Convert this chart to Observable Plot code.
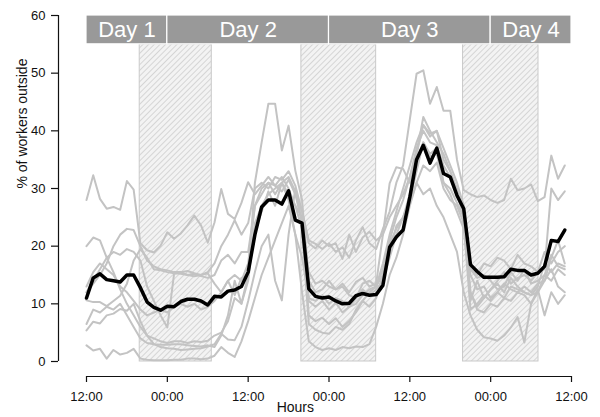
<!DOCTYPE html>
<html><head><meta charset="utf-8">
<script src="https://cdn.jsdelivr.net/npm/d3@7"></script>
<script src="https://cdn.jsdelivr.net/npm/@observablehq/plot@0.6"></script>
<style>body{margin:0;background:#fff;font-family:"Liberation Sans",Arial,sans-serif}</style>
</head><body><div id="chart"></div>
<script>
// ---------- data (hourly, hour 0 = 12:00 on day 1) ----------
const meanWorkers = [
  11.0,14.5,15.2,14.2,14.0,13.8,15.0,15.0,12.8,10.3,9.4,8.9,
  9.6,9.5,10.4,10.8,10.8,10.5,9.8,11.3,11.2,12.2,12.4,13.0,
  15.5,22.0,26.8,28.0,28.0,27.3,29.6,24.5,24.0,12.6,11.3,11.0,
  11.2,10.5,10.0,10.1,11.4,11.8,11.5,11.6,13.2,19.8,21.6,22.8,
  28.5,35.0,37.5,34.4,37.0,32.6,32.0,28.8,26.5,16.8,15.6,14.6,
  14.6,14.6,14.7,16.0,15.8,15.8,15.0,15.3,16.5,21.0,20.8,22.8];

const colonyA = [
  28.0,32.3,28.2,26.5,26.8,26.3,31.3,29.8,20.5,19.3,18.9,20.1,
  22.4,21.3,22.2,23.6,25.3,23.6,20.6,24.1,29.9,25.6,24.7,27.5,
  31.1,29.0,30.5,32.0,30.5,29.5,31.5,29.0,24.0,15.5,13.5,14.0,
  13.0,12.5,13.5,12.0,13.8,14.5,13.0,13.5,22.0,30.9,33.7,33.4,
  31.0,35.0,38.0,35.5,36.0,31.0,30.0,27.5,25.0,16.0,14.5,15.0,
  14.0,12.5,13.0,15.5,14.0,16.0,13.5,14.0,15.0,18.5,16.5,16.0];
const colonyB = [
  12.0,14.0,16.0,18.0,19.0,18.5,19.5,19.0,17.5,13.0,10.5,8.0,
  5.9,15.2,15.5,15.0,15.2,14.8,14.5,15.0,17.5,18.5,17.0,19.0,
  19.0,27.0,29.0,31.0,30.5,32.0,30.0,27.0,25.0,10.5,9.5,10.5,
  9.0,10.2,8.5,9.5,11.0,12.5,11.5,12.5,14.0,18.0,22.0,25.0,
  29.0,36.0,41.0,39.0,40.0,35.0,33.0,29.0,26.0,10.5,14.0,11.0,
  12.5,13.5,12.0,14.5,13.0,12.0,11.5,13.0,17.0,15.5,17.0,16.5];
const colonyC = [
  10.6,10.3,10.3,9.6,10.5,11.4,13.5,17.5,19.5,18.0,16.0,15.8,
  15.5,15.3,15.2,15.0,14.8,15.0,15.3,13.5,12.0,14.0,11.5,14.5,
  15.0,22.5,26.0,29.5,27.0,31.0,29.0,27.0,23.0,6.5,5.5,5.0,
  4.8,6.0,5.5,6.5,9.0,10.5,9.5,11.0,15.0,19.0,23.5,25.0,
  28.0,33.0,38.0,36.0,37.0,31.0,29.0,26.0,23.0,12.0,9.5,11.0,
  12.5,14.0,15.5,13.5,14.5,15.0,14.0,15.5,19.0,17.0,19.0,20.0];
const colonyD = [
  5.4,6.9,6.6,8.0,8.3,9.1,8.8,10.0,7.0,4.5,3.0,2.5,
  2.3,2.2,2.0,2.1,2.2,2.3,2.6,3.0,4.8,3.8,3.7,6.0,
  10.5,15.5,20.0,22.0,14.0,10.6,22.0,30.0,24.0,8.0,7.0,7.6,
  6.5,7.5,6.0,7.0,8.5,10.5,12.0,13.0,15.0,20.5,23.0,25.0,
  27.5,31.0,34.0,33.0,34.5,30.0,28.0,27.0,24.0,9.0,10.0,11.5,
  10.5,12.0,11.0,13.0,12.5,12.0,11.5,12.0,15.0,14.0,16.0,15.0];
const colonyE = [
  2.8,1.9,2.2,0.5,2.0,1.2,1.5,2.2,0.5,0.3,0.2,0.2,
  0.2,0.3,0.3,0.5,0.5,0.4,0.5,1.0,2.5,1.5,0.8,3.5,
  7.0,11.0,15.0,18.0,21.0,24.0,27.0,22.0,12.0,3.5,2.5,2.0,
  2.3,2.0,2.5,2.3,2.6,2.5,3.0,6.0,10.0,15.0,18.0,22.0,
  27.0,31.0,29.0,30.0,27.0,25.0,22.0,19.0,12.0,8.0,5.5,4.2,
  4.0,3.6,4.5,5.9,7.7,3.3,10.0,12.5,8.0,12.0,10.0,11.5];
const colonyF = [
  6.5,9.0,8.5,9.5,9.0,10.0,8.0,6.0,4.0,3.2,3.0,2.9,
  2.9,3.0,3.0,2.8,2.7,2.6,2.8,2.5,4.5,8.0,14.0,10.0,
  15.0,31.0,38.0,44.7,44.7,36.6,40.9,33.1,28.0,14.0,12.0,12.5,
  14.0,12.5,13.0,11.5,11.0,13.5,14.0,13.0,17.0,22.0,26.0,30.0,
  34.0,38.0,41.0,39.5,40.0,37.0,34.0,31.0,27.0,15.0,12.5,13.0,
  11.0,12.0,13.5,12.5,12.0,13.0,12.0,13.5,14.0,18.0,21.0,17.0];
const colonyG = [
  12.0,13.5,15.0,17.0,20.0,22.0,23.0,22.8,20.0,17.5,16.5,16.0,
  15.8,15.5,15.5,15.7,15.3,15.0,15.5,17.0,20.0,22.0,24.5,22.0,
  24.0,30.0,31.0,30.0,32.0,31.5,33.0,30.5,26.0,21.0,20.4,19.5,
  20.5,19.0,19.8,18.0,21.0,23.3,20.5,19.5,23.0,26.0,31.0,34.0,
  42.0,49.9,50.5,44.7,47.6,43.5,43.5,35.0,29.7,29.0,28.5,28.8,
  28.0,27.5,28.0,31.7,29.7,30.0,30.7,27.8,28.5,35.7,31.7,34.0];
const colonyH = [
  20.0,21.5,21.0,18.0,15.5,12.5,10.0,8.0,6.0,4.5,4.0,3.5,
  3.2,3.5,3.5,3.2,3.5,3.4,3.6,4.5,5.0,7.0,11.0,10.0,
  14.0,24.0,27.0,29.0,30.0,31.0,32.0,29.5,26.0,20.5,19.6,21.0,
  20.0,20.5,17.8,22.0,19.0,21.5,22.5,21.0,22.0,25.0,27.0,29.0,
  32.0,36.0,42.4,40.0,38.0,36.0,33.0,30.0,27.0,16.0,15.0,17.0,
  16.5,18.0,17.5,16.0,18.5,17.0,16.5,15.5,16.0,30.0,28.0,29.5];
const colonyI = [
  13.0,15.5,17.0,16.0,15.0,13.0,12.0,10.5,9.0,8.0,8.5,9.0,
  8.5,9.5,10.0,9.5,10.0,9.0,9.5,10.5,12.0,14.0,15.0,14.0,
  17.0,27.0,30.0,31.0,29.0,31.0,28.0,22.0,18.0,11.0,10.5,11.5,
  10.0,11.0,10.5,9.5,10.0,11.5,12.5,13.0,16.0,21.0,25.0,28.0,
  32.0,37.0,40.0,38.0,37.5,34.0,32.0,29.0,25.0,12.0,9.0,8.5,
  10.0,9.5,11.0,10.5,12.0,11.5,10.0,12.0,14.0,16.0,13.0,12.0];

const colonies = {A: colonyA, B: colonyB, C: colonyC, D: colonyD, E: colonyE,
                  F: colonyF, G: colonyG, H: colonyH, I: colonyI};

// nights (hours since 12:00 day 1)
const nightStart = [7.9, 31.9, 55.9];
const nightEnd   = [18.6, 43.0, 67.1];

// day header
const dayLabels = ["Day 1", "Day 2", "Day 3", "Day 4"];
const dayStart  = [0, 12, 36, 60];
const dayEnd    = [12, 36, 60, 72];

// axes
const xTicks = [0, 12, 24, 36, 48, 60, 72];
const xTickLabels = ["12:00", "00:00", "12:00", "00:00", "12:00", "00:00", "12:00"];
const yTicks = [0, 10, 20, 30, 40, 50, 60];

// ---------- build tables ----------
const grayData = [];
for (const [name, vals] of Object.entries(colonies)) {
  vals.forEach((v, i) => grayData.push({colony: name, hour: i, value: v}));
}
const meanData = meanWorkers.map((v, i) => ({hour: i, value: v}));
const nights = nightStart.map((s, i) => ({start: s, end: nightEnd[i]}));
const days = dayLabels.map((l, i) => ({label: l, start: dayStart[i], end: dayEnd[i]}));
const xLabelMap = new Map(xTicks.map((t, i) => [t, xTickLabels[i]]));

const headerBottom = 55, headerTop = 60;

const plot = Plot.plot({
  width: 600, height: 417,
  marginLeft: 58, marginRight: 29, marginTop: 15, marginBottom: 41,
  x: {domain: [0, 72], insetLeft: 28, axis: null},
  y: {domain: [0, 60], insetBottom: 15, axis: null},
  style: {fontFamily: "'Liberation Sans', Arial, sans-serif", background: "white", color: "#111"},
  marks: [
    Plot.rect(nights, {x1: "start", x2: "end", y1: 0, y2: headerBottom,
      fill: "url(#hatch)", stroke: "#c9c9c9", strokeWidth: 1}),
    Plot.line(grayData, {x: "hour", y: "value", z: "colony", stroke: "#c3c3c3",
      strokeWidth: 2, strokeLinejoin: "round"}),
    Plot.line(meanData, {x: "hour", y: "value", stroke: "#000", strokeWidth: 3.5,
      strokeLinejoin: "round"}),
    Plot.rect(days, {x1: "start", x2: "end", y1: headerBottom, y2: headerTop,
      fill: "#999999", stroke: "white", strokeWidth: 1.2}),
    Plot.text(days, {x: d => (d.start + d.end) / 2, y: (headerBottom + headerTop) / 2,
      text: "label", fill: "white", fontSize: 22}),
    // axis lines (R style, offset from plot)
    Plot.ruleY([0], {x1: xTicks[0], x2: xTicks[xTicks.length - 1], dy: 15, stroke: "#111", strokeWidth: 1.2}),
    Plot.ruleX([0], {y1: yTicks[0], y2: yTicks[yTicks.length - 1], dx: -28, stroke: "#111", strokeWidth: 1.2}),
    Plot.axisX(xTicks, {anchor: "bottom", tickSize: 6, tickPadding: 9, fontSize: 13,
      tickFormat: d => xLabelMap.get(d), label: null, strokeWidth: 1.2}),
    Plot.axisY(yTicks, {anchor: "left", tickSize: 7, tickPadding: 6, fontSize: 13,
      label: null, strokeWidth: 1.2}),
    Plot.text(["Hours"], {frameAnchor: "bottom", x: 31, dy: 31, fontSize: 14, lineAnchor: "middle"}),
    Plot.text(["% of workers outside"], {frameAnchor: "left", y: 30, dx: -36, rotate: -90,
      fontSize: 14, lineAnchor: "middle"})
  ]
});

plot.insertAdjacentHTML("afterbegin",
  `<defs><pattern id="hatch" patternUnits="userSpaceOnUse" width="4" height="4" patternTransform="rotate(45)">
     <rect width="4" height="4" fill="#f3f3f3"/>
     <line x1="0" y1="0" x2="0" y2="4" stroke="#bcbcbc" stroke-width="1.1"/>
   </pattern></defs>`);

document.getElementById("chart").appendChild(plot);
</script>
</body></html>
